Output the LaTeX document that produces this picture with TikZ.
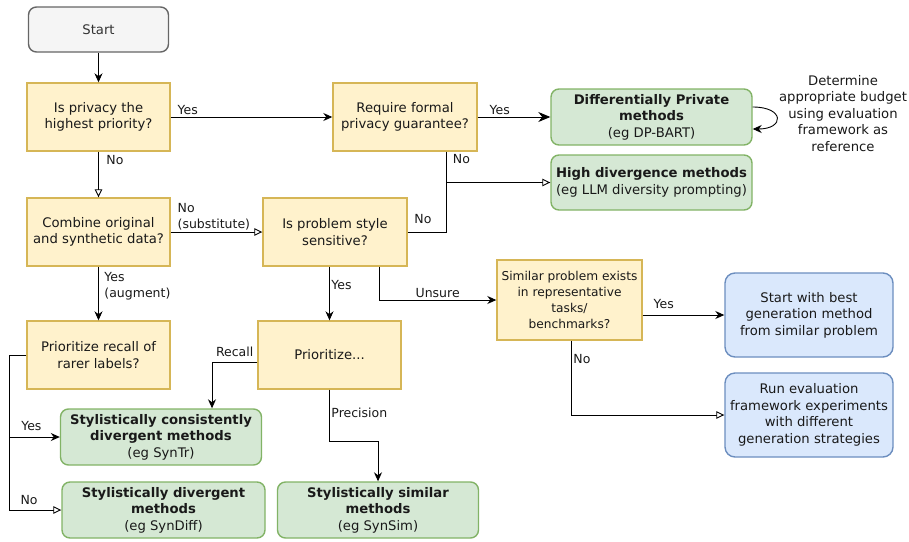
\documentclass[tikz,border=0pt]{standalone}
\usepackage{fontspec}
\setmainfont{DejaVu Sans}
\usetikzlibrary{arrows.meta,positioning}
\definecolor{qfill}{HTML}{FFF2CC}
\definecolor{qdraw}{HTML}{D6B656}
\definecolor{mfill}{HTML}{D5E8D4}
\definecolor{mdraw}{HTML}{82B366}
\definecolor{afill}{HTML}{DAE8FC}
\definecolor{adraw}{HTML}{6C8EBF}
\definecolor{sfill}{HTML}{F5F5F5}
\definecolor{sdraw}{HTML}{666666}

\begin{document}
\begin{tikzpicture}[x=1pt, y=-1pt,
    every node/.style={font=\fontsize{13.2}{16.5}\selectfont, text=black!90, align=center},
    box/.style={draw, line width=1.4pt, inner sep=2pt},
    startbox/.style={box, rounded corners=8pt, draw=sdraw, fill=sfill, text=black!80,
      minimum width=140pt, minimum height=45pt},
    question/.style={box, draw=qdraw, fill=qfill, minimum width=143pt, minimum height=68pt},
    method/.style={box, rounded corners=8pt, draw=mdraw, fill=mfill, minimum width=201pt, minimum height=56pt},
    action/.style={box, rounded corners=10pt, draw=adraw, fill=afill, minimum width=168pt, minimum height=84pt},
    lbl/.style={font=\fontsize{12.5}{16}\selectfont, inner sep=1.5pt, align=left},
    arr/.style={-{Stealth[length=9pt,width=8pt]}, line width=0.9pt},
    oarr/.style={-{Triangle[length=8pt,width=7.5pt,fill=white]}, line width=0.9pt}]
\useasboundingbox (0,0) rectangle (909,541);

\node[startbox] (start) at (98.5,29.5) {Start};
\node[question] (privacy) at (98.5,117) {Is privacy the\\highest priority?};
\node[question, minimum width=144pt] (formal) at (405,117) {Require formal\\privacy guarantee?};
\node[method] (dp) at (651.5,117) {\textbf{Differentially Private}\\\textbf{methods}\\(eg DP-BART)};
\node[method, minimum height=55pt] (highdiv) at (651.5,182.5) {\textbf{High divergence methods}\\(eg LLM diversity prompting)};
\node (budget) at (843,113.5) {Determine\\appropriate budget\\using evaluation\\framework as\\reference};
\node[question] (combine) at (98.5,232) {Combine original\\and synthetic data?};
\node[question, minimum width=144pt] (style) at (335,232) {Is problem style\\sensitive?};
\node[question, minimum width=145pt, minimum height=80pt, font=\fontsize{12.2}{16}\selectfont] (similar) at (569.5,300)
  {Similar problem exists\\in representative\\tasks/\\benchmarks?};
\node[action] (bestgen) at (809,315) {Start with best\\generation method\\from similar problem};
\node[action] (runexp) at (809,415) {Run evaluation\\framework experiments\\with different\\generation strategies};
\node[question] (rarer) at (98.5,355) {Prioritize recall of\\rarer labels?};
\node[question] (prio) at (329.5,355) {Prioritize...};
\node[method] (consistent) at (161,437) {\textbf{Stylistically consistently}\\\textbf{divergent methods}\\(eg SynTr)};
\node[method, minimum width=203pt] (divergent) at (163.5,510) {\textbf{Stylistically divergent}\\\textbf{methods}\\(eg SynDiff)};
\node[method] (simmeth) at (378,510) {\textbf{Stylistically similar}\\\textbf{methods}\\(eg SynSim)};

\coordinate (nojoin) at (446,182.5);
\coordinate (split) at (9,355);

\draw[arr] (start) -- (privacy);
\draw[arr] (privacy) -- node[lbl, anchor=south west, pos=0, xshift=5pt]{Yes} (formal);
\draw[-{Stealth[length=12pt,width=10pt]}, line width=0.9pt] (formal) -- node[lbl, anchor=south west, pos=0, xshift=10pt]{Yes} (dp);
\draw[arr] ([yshift=10pt]dp.east) .. controls +(32,0) and +(32,0) .. ([yshift=-12pt]dp.east);
\draw[oarr] (privacy) -- node[lbl, anchor=north west, pos=0, xshift=6pt, yshift=-2pt]{No} (combine);
\draw[oarr] ([xshift=41pt]formal.south) node[lbl, anchor=north west, xshift=5pt, yshift=-1pt]{No} |- (highdiv.west);
\draw (style.east) node[lbl, anchor=south west, xshift=5pt, yshift=7pt]{No} -| (nojoin);
\draw[oarr] (combine) -- node[lbl, anchor=south west, pos=0, xshift=5pt]{No\\(substitute)} (style);
\draw[arr] (combine) -- node[lbl, anchor=north west, pos=0, xshift=4pt, yshift=-4pt]{Yes\\(augment)} (rarer);
\draw[arr] (style.south -| prio.north) -- node[lbl, right, pos=0.35]{Yes} (prio.north);
\draw[arr] ([xshift=44pt]style.south) |- node[lbl, above, pos=0.75]{Unsure} (similar.west);
\draw[arr] (similar.east |- bestgen.west) -- node[lbl, anchor=south west, pos=0, xshift=9pt, yshift=4pt]{Yes} (bestgen.west);
\draw[oarr] ([xshift=2pt]similar.south) |- node[lbl, right, pos=0.12]{No} (runexp.west);
\draw (rarer.west) -- (split);
\draw[arr] (split) |- node[lbl, above, pos=0.75, yshift=4pt, xshift=-3pt]{Yes} (consistent.west);
\draw[oarr] (split) |- node[lbl, above, pos=0.72, yshift=3pt, xshift=-3pt]{No} (divergent.west);
\draw[arr] ([yshift=-7pt]prio.west) -| node[lbl, above, pos=0.25, yshift=3pt]{Recall} ([xshift=51pt]consistent.north);
\draw[arr] (prio.south) -- node[lbl, right, pos=0.45]{Precision} ++(0,52) -| (simmeth.north);

\end{tikzpicture}
\end{document}
